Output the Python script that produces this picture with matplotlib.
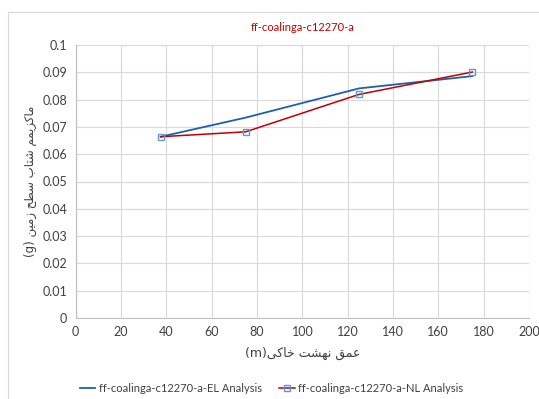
import matplotlib
matplotlib.use('Agg')
import matplotlib.pyplot as plt
from matplotlib.patches import Rectangle

plt.rcParams['font.family'] = ['Lato', 'DejaVu Sans']

depth = [37.5, 75, 125, 175]
el_pga = [0.0664, 0.0734, 0.0841, 0.0886]
nl_pga = [0.0664, 0.0682, 0.0819, 0.0901]

title = 'ff-coalinga-c12270-a'
el_label = 'ff-coalinga-c12270-a-EL Analysis'
nl_label = 'ff-coalinga-c12270-a-NL Analysis'
# "عمق نهشت خاکی(m)" and "ماکزیمم شتاب سطح زمین (g)" written in shaped visual order
x_label = '(m)\uFBFD\uFB90\uFE8E\uFEA7 \uFE96\uFEB8\uFEEC\uFEE7 \uFED6\uFEE4\uFECB'
y_label = ('(g) \uFEE6\uFBFF\uFEE3\uFEAF \uFEA2\uFEC4\uFEB3 '
           '\uFE8F\uFE8E\uFE98\uFEB7 \uFEE2\uFEE4\uFBFE\uFEB0\uFB90\uFE8E\uFEE3')
x_ticks = [0, 20, 40, 60, 80, 100, 120, 140, 160, 180, 200]
y_ticks = [0, 0.01, 0.02, 0.03, 0.04, 0.05, 0.06, 0.07, 0.08, 0.09, 0.1]

fig = plt.figure(figsize=(5.39, 3.99), dpi=100)
fig.patches.append(Rectangle((8 / 539, -0.1), 1.2, 1 - 12 / 399 + 0.1,
                             transform=fig.transFigure, fill=False,
                             edgecolor='#D9D9D9', linewidth=0.8))
ax = fig.add_axes([75.7 / 539, 1 - 318 / 399, (529 - 75.7) / 539, (318 - 45) / 399])

ax.plot(depth, el_pga, color='#1F5FAF', linewidth=1.3, label=el_label)
ax.plot(depth, nl_pga, color='#C00000', linewidth=1.1, marker='s', markersize=5,
        markerfacecolor='none', markeredgecolor='#5B9BD5', markeredgewidth=1.0,
        label=nl_label)

ax.set_xlim(0, 200)
ax.set_ylim(0, 0.1)
ax.set_xticks(x_ticks)
ax.set_yticks(y_ticks)
ax.set_yticklabels(['0' if v == 0 else ('%g' % v) for v in y_ticks])
ax.grid(True, color='#D9D9D9', linewidth=0.8)
ax.set_axisbelow(True)
for s in ['top', 'right']:
    ax.spines[s].set_visible(False)
for s in ['left', 'bottom']:
    ax.spines[s].set_color('#BFBFBF')
ax.tick_params(length=0, labelsize=9, colors='#404040', pad=6)

ax.set_title(title, color='#C00000', fontsize=8, pad=10)
ax.set_xlabel(x_label, family=['DejaVu Sans'], fontsize=9, color='#404040', labelpad=6)
ax.set_ylabel(y_label, family=['DejaVu Sans'], fontsize=8.5, color='#404040', labelpad=4)

ax.legend(loc='upper center', bbox_to_anchor=(0.432, -0.2), ncol=2, frameon=False,
          fontsize=8, handlelength=1.4, handletextpad=0.3, columnspacing=1.6,
          labelcolor='#404040')

fig.savefig('out.png', dpi=100)
